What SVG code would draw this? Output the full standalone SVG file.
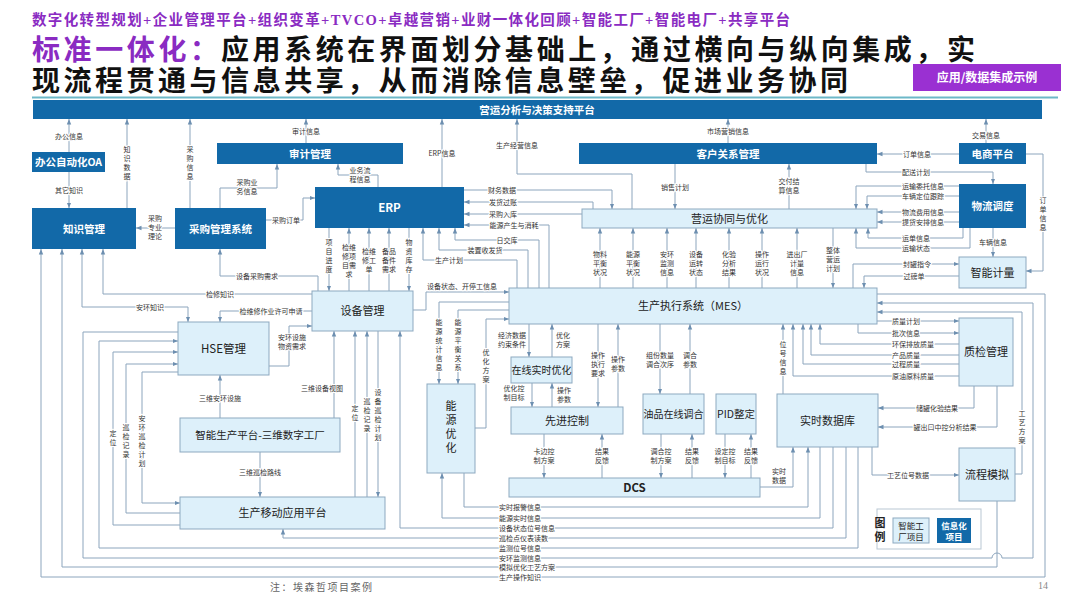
<svg xmlns="http://www.w3.org/2000/svg" width="1080" height="607" viewBox="0 0 1080 607">
<style>
.ln{fill:none;stroke:#8CA5BD;stroke-width:1}
.ar{marker-end:url(#a)}
.as{marker-start:url(#a)}
.lb{font-family:"Noto Sans CJK SC","Noto Sans",sans-serif;font-size:7px;fill:#333;text-anchor:middle;stroke:#fff;stroke-width:2.2px;paint-order:stroke;stroke-linejoin:round}
.ls{text-anchor:start}
.dk rect{fill:#1269A8}
.lt rect{fill:#DDF0FA;stroke:#8DA9C0;stroke-width:1}
.nt{font-family:"Noto Sans CJK SC","Noto Sans",sans-serif;text-anchor:middle;font-size:11px}
.dk .nt{fill:#fff;font-weight:bold;font-size:10.5px}
.lt .nt{fill:#222}
.ttl{font-family:"Noto Sans CJK SC",sans-serif;font-size:28px;font-weight:bold;fill:#111}
</style>
<defs>
<marker id="a" viewBox="0 0 10 10" refX="10" refY="5" markerWidth="5.5" markerHeight="5.5" orient="auto-start-reverse"><path d="M0,1L10,5L0,9z" fill="#6D8FB0"/></marker>
</defs>
<rect width="1080" height="607" fill="#fff"/>
<g id="header">
<text x="32" y="25" textLength="758" lengthAdjust="spacing" font-family="Liberation Serif,Noto Sans CJK SC,serif" font-size="14.5" font-weight="bold" fill="#8A2BC2">数字化转型规划+企业管理平台+组织变革+TVCO+卓越营销+业财一体化回顾+智能工厂+智能电厂+共享平台</text>
<text class="ttl" x="32" y="60" textLength="186" lengthAdjust="spacing" style="fill:#8A2BC2">标准一体化：</text>
<text class="ttl" x="221" y="60" textLength="754" lengthAdjust="spacing">应用系统在界面划分基础上，通过横向与纵向集成，实</text>
<text class="ttl" x="32" y="91" textLength="816" lengthAdjust="spacing">现流程贯通与信息共享，从而消除信息壁垒，促进业务协同</text>
<rect x="913" y="64" width="148" height="27" fill="#9A30D2"/>
<text x="987" y="82" text-anchor="middle" font-family="Noto Sans CJK SC,sans-serif" font-size="12" font-weight="bold" fill="#fff">应用/数据集成示例</text>
<line x1="32" y1="97.5" x2="1058" y2="97.5" stroke="#6CB8C8" stroke-width="2"/>
</g>
<g id="connectors">
<path class="ln ar" d="M69,152V119"/>
<path class="ln ar" d="M127,208V119"/>
<path class="ln ar" d="M190,208V119"/>
<path class="ln ar" d="M306,143V119"/>
<path class="ln ar" d="M442,187V119"/>
<path class="ln ar" d="M632,209V174H517V119"/>
<path class="ln ar" d="M464,190H612V209"/>
<path class="ln ar" d="M593,209V202H464"/>
<path class="ln ar" d="M582,214H464"/>
<path class="ln ar" d="M549,288V225H464"/>
<path class="ln ar" d="M539,288V240H455V228"/>
<path class="ln ar" d="M528,288V250H439V228"/>
<path class="ln ar" d="M517,288V260H423V228"/>
<path class="ln ar" d="M675,164V209"/>
<path class="ln ar" d="M789,209V164"/>
<path class="ln ar" d="M728,143V119"/>
<path class="ln ar" d="M986,143V119"/>
<path class="ln ar" d="M959,154H877"/>
<path class="ln ar" d="M866,164V172H993V184"/>
<path class="ln ar" d="M1026,154H1043V271H1026"/>
<path class="ln ar" d="M959,186H856V209"/>
<path class="ln ar" d="M959,196H867V209"/>
<path class="ln ar" d="M959,212H877"/>
<path class="ln ar" d="M959,222H877"/>
<path class="ln ar" d="M963,228V238H868V228"/>
<path class="ln ar" d="M970,228V248H856V228"/>
<path class="ln ar" d="M993,228V257"/>
<path class="ln ar" d="M853,288V264H959"/>
<path class="ln ar" d="M959,276H864V288"/>
<path class="ln ar" d="M833,228V288"/>
<path class="ln ar" d="M600,288V228"/>
<path class="ln ar" d="M633,288V228"/>
<path class="ln ar" d="M667,288V228"/>
<path class="ln ar" d="M696,288V228"/>
<path class="ln ar" d="M729,288V228"/>
<path class="ln ar" d="M762,288V228"/>
<path class="ln ar" d="M797,288V228"/>
<path class="ln ar" d="M877,294H1045V577H41V249"/>
<path class="ln ar" d="M178,332H83V558H992A5,5 0 0 1 1002,558H1033V303H877"/>
<path class="ln ar" d="M1015,474H1022V312H877"/>
<path class="ln ar" d="M997,501V567H62V249"/>
<path class="ln ar" d="M877,321H959"/>
<path class="ln ar" d="M858,324V333H959"/>
<path class="ln ar" d="M959,344H820V324"/>
<path class="ln ar" d="M959,355H811V324"/>
<path class="ln ar" d="M959,364H803V324"/>
<path class="ln ar" d="M959,376H793V324"/>
<path class="ln ar" d="M783,394V324"/>
<path class="ln ar" d="M974,386V408H878"/>
<path class="ln ar" d="M997,386V427H878"/>
<path class="ln ar" d="M872,447V475H959"/>
<path class="ln ar" d="M544,434V478"/>
<path class="ln ar" d="M602,478V434"/>
<path class="ln ar" d="M661,434V478"/>
<path class="ln ar" d="M692,478V434"/>
<path class="ln ar" d="M725,434V478"/>
<path class="ln ar" d="M751,478V434"/>
<path class="ln ar" d="M760,487H793V447"/>
<path class="ln ar" d="M464,473V507H808V447"/>
<path class="ln ar" d="M820,447V518H442V473"/>
<path class="ln ar" d="M833,447V528H400V331"/>
<path class="ln ar" d="M846,447V538H283V529"/>
<path class="ln ar" d="M858,447V548H99V341H178"/>
<path class="ln ar" d="M180,525H113V352H178"/>
<path class="ln ar" d="M180,513H126V364H178"/>
<path class="ln ar" d="M178,372H142V503H180"/>
<path class="ln ar as" d="M82,249V307H188V322"/>
<path class="ln ar" d="M312,294H103V249"/>
<path class="ln ar" d="M318,291V276H220V249"/>
<path class="ln ar" d="M312,311H220V322"/>
<path class="ln ar" d="M269,366H289V326H312"/>
<path class="ln ar" d="M266,220H303V198H315"/>
<path class="ln ar" d="M220,208V188H277V164"/>
<path class="ln ar" d="M378,187V175H338V164"/>
<path class="ln ar" d="M175,228H136"/>
<path class="ln ar" d="M69,172V208"/>
<path class="ln ar" d="M329,228V291"/>
<path class="ln ar" d="M349,291V228"/>
<path class="ln ar" d="M369,291V228"/>
<path class="ln ar" d="M389,291V228"/>
<path class="ln ar" d="M409,228V291"/>
<path class="ln ar" d="M413,310H426V292H509"/>
<path class="ln ar" d="M509,302H439V384"/>
<path class="ln ar" d="M509,310H458V384"/>
<path class="ln ar" d="M475,428H486V319H509"/>
<path class="ln ar" d="M529,324V357"/>
<path class="ln ar" d="M552,357V324"/>
<path class="ln ar" d="M598,324V407"/>
<path class="ln ar" d="M618,407V324"/>
<path class="ln ar" d="M532,383V407"/>
<path class="ln ar" d="M552,407V383"/>
<path class="ln ar" d="M660,324V394"/>
<path class="ln ar" d="M690,394V324"/>
<path class="ln ar" d="M220,418V375"/>
<path class="ln ar" d="M334,418V331"/>
<path class="ln ar" d="M260,452V497"/>
<path class="ln ar" d="M355,497V331"/>
<path class="ln ar" d="M367,497V331"/>
<path class="ln ar" d="M378,331V497"/>
<text class="lb" x="69" y="139">办公信息</text>
<text class="lb"><tspan x="127" y="152">知</tspan><tspan x="127" y="161">识</tspan><tspan x="127" y="170">数</tspan><tspan x="127" y="179">据</tspan></text>
<text class="lb"><tspan x="190" y="152">采</tspan><tspan x="190" y="161">购</tspan><tspan x="190" y="170">信</tspan><tspan x="190" y="179">息</tspan></text>
<text class="lb" x="306" y="134">审计信息</text>
<text class="lb" x="442" y="156">ERP信息</text>
<text class="lb" x="517" y="148">生产经营信息</text>
<text class="lb" x="502" y="192.5">财务数据</text>
<text class="lb" x="503" y="204.5">发货过账</text>
<text class="lb" x="503" y="216.5">采购入库</text>
<text class="lb" x="514" y="227.5">能源产生与消耗</text>
<text class="lb" x="507" y="242.5">日交库</text>
<text class="lb" x="485" y="252.5">装置收发货</text>
<text class="lb" x="449" y="262.5">生产计划</text>
<text class="lb" x="675" y="189.5">销售计划</text>
<text class="lb"><tspan x="789" y="184">交付结</tspan><tspan x="789" y="193">算信息</tspan></text>
<text class="lb" x="728" y="134">市场营销信息</text>
<text class="lb" x="986" y="138">交易信息</text>
<text class="lb" x="917" y="156.5">订单信息</text>
<text class="lb" x="916" y="174.5">配送计划</text>
<text class="lb"><tspan x="1043" y="203">订</tspan><tspan x="1043" y="212">单</tspan><tspan x="1043" y="221">信</tspan><tspan x="1043" y="230">息</tspan></text>
<text class="lb" x="923" y="188.5">运输委托信息</text>
<text class="lb" x="923" y="198.5">车辆定位跟踪</text>
<text class="lb" x="923" y="214.5">物流费用信息</text>
<text class="lb" x="923" y="224.5">提货安排信息</text>
<text class="lb" x="916" y="240.5">运单信息</text>
<text class="lb" x="916" y="250.5">运输状态</text>
<text class="lb" x="993" y="244.5">车辆信息</text>
<text class="lb" x="917" y="266.5">封罐指令</text>
<text class="lb" x="914" y="278.5">过磅单</text>
<text class="lb"><tspan x="833" y="252.5">整体</tspan><tspan x="833" y="261.5">营运</tspan><tspan x="833" y="270.5">计划</tspan></text>
<text class="lb"><tspan x="600" y="257">物料</tspan><tspan x="600" y="266">平衡</tspan><tspan x="600" y="275">状况</tspan></text>
<text class="lb"><tspan x="633" y="257">能源</tspan><tspan x="633" y="266">平衡</tspan><tspan x="633" y="275">状况</tspan></text>
<text class="lb"><tspan x="667" y="257">安环</tspan><tspan x="667" y="266">监测</tspan><tspan x="667" y="275">信息</tspan></text>
<text class="lb"><tspan x="696" y="257">设备</tspan><tspan x="696" y="266">运转</tspan><tspan x="696" y="275">状态</tspan></text>
<text class="lb"><tspan x="729" y="257">化验</tspan><tspan x="729" y="266">分析</tspan><tspan x="729" y="275">结果</tspan></text>
<text class="lb"><tspan x="762" y="257">操作</tspan><tspan x="762" y="266">运行</tspan><tspan x="762" y="275">状况</tspan></text>
<text class="lb"><tspan x="797" y="257">进出厂</tspan><tspan x="797" y="266">计量</tspan><tspan x="797" y="275">信息</tspan></text>
<text class="lb ls" x="499" y="509.5">实时报警信息</text>
<text class="lb ls" x="499" y="520.5">能源实时信息</text>
<text class="lb ls" x="499" y="530.5">设备状态位号信息</text>
<text class="lb ls" x="499" y="540.5">巡检点仪表读数</text>
<text class="lb ls" x="499" y="550.5">监测位号信息</text>
<text class="lb ls" x="499" y="560.5">安环监测信息</text>
<text class="lb ls" x="499" y="569.5">模拟优化工艺方案</text>
<text class="lb ls" x="499" y="579.5">生产操作知识</text>
<text class="lb"><tspan x="1022" y="416">工</tspan><tspan x="1022" y="425">艺</tspan><tspan x="1022" y="434">方</tspan><tspan x="1022" y="443">案</tspan></text>
<text class="lb ls" x="892" y="323.5">质量计划</text>
<text class="lb ls" x="892" y="335.5">批次信息</text>
<text class="lb ls" x="892" y="346.5">环保排放质量</text>
<text class="lb ls" x="892" y="357.5">产品质量</text>
<text class="lb ls" x="892" y="366.5">过程质量</text>
<text class="lb ls" x="892" y="378.5">原油原料质量</text>
<text class="lb"><tspan x="783" y="347">位</tspan><tspan x="783" y="356">号</tspan><tspan x="783" y="365">信</tspan><tspan x="783" y="374">息</tspan></text>
<text class="lb" x="937" y="410.5">储罐化验结果</text>
<text class="lb" x="945" y="429.5">罐出口中控分析结果</text>
<text class="lb" x="908" y="477.5">工艺位号数据</text>
<text class="lb"><tspan x="544" y="454">卡边控</tspan><tspan x="544" y="463">制方案</tspan></text>
<text class="lb"><tspan x="602" y="454">结果</tspan><tspan x="602" y="463">反馈</tspan></text>
<text class="lb"><tspan x="661" y="454">调合控</tspan><tspan x="661" y="463">制方案</tspan></text>
<text class="lb"><tspan x="692" y="454">结果</tspan><tspan x="692" y="463">反馈</tspan></text>
<text class="lb"><tspan x="725" y="454">设定控</tspan><tspan x="725" y="463">制目标</tspan></text>
<text class="lb"><tspan x="751" y="454">结果</tspan><tspan x="751" y="463">反馈</tspan></text>
<text class="lb"><tspan x="779" y="474">实时</tspan><tspan x="779" y="483">数据</tspan></text>
<text class="lb"><tspan x="113" y="436">定</tspan><tspan x="113" y="445">位</tspan></text>
<text class="lb"><tspan x="126" y="430">巡</tspan><tspan x="126" y="439">检</tspan><tspan x="126" y="448">记</tspan><tspan x="126" y="457">录</tspan></text>
<text class="lb"><tspan x="142" y="421">安</tspan><tspan x="142" y="430">环</tspan><tspan x="142" y="439">巡</tspan><tspan x="142" y="448">检</tspan><tspan x="142" y="457">计</tspan><tspan x="142" y="466">划</tspan></text>
<text class="lb" x="150" y="309.5">安环知识</text>
<text class="lb" x="220" y="296.5">检修知识</text>
<text class="lb" x="257" y="278.5">设备采购需求</text>
<text class="lb" x="271" y="313.5">检维修作业许可申请</text>
<text class="lb"><tspan x="292" y="340">安环设施</tspan><tspan x="292" y="349">物资需求</tspan></text>
<text class="lb" x="286" y="222.5">采购订单</text>
<text class="lb"><tspan x="247" y="185">采购业</tspan><tspan x="247" y="194">务信息</tspan></text>
<text class="lb"><tspan x="360" y="173">业务流</tspan><tspan x="360" y="182">程信息</tspan></text>
<text class="lb"><tspan x="155" y="221">采购</tspan><tspan x="155" y="230">专业</tspan><tspan x="155" y="239">理论</tspan></text>
<text class="lb" x="69" y="192.5">其它知识</text>
<text class="lb"><tspan x="329" y="245">项</tspan><tspan x="329" y="254">目</tspan><tspan x="329" y="263">进</tspan><tspan x="329" y="272">度</tspan></text>
<text class="lb"><tspan x="349" y="250">检维</tspan><tspan x="349" y="259">修项</tspan><tspan x="349" y="268">目需</tspan><tspan x="349" y="277">求</tspan></text>
<text class="lb"><tspan x="369" y="254">检维</tspan><tspan x="369" y="263">修工</tspan><tspan x="369" y="272">单</tspan></text>
<text class="lb"><tspan x="389" y="254">备品</tspan><tspan x="389" y="263">备件</tspan><tspan x="389" y="272">需求</tspan></text>
<text class="lb"><tspan x="409" y="245">物</tspan><tspan x="409" y="254">资</tspan><tspan x="409" y="263">库</tspan><tspan x="409" y="272">存</tspan></text>
<text class="lb" x="462" y="288.5">设备状态、开停工信息</text>
<text class="lb"><tspan x="439" y="325">能</tspan><tspan x="439" y="334">源</tspan><tspan x="439" y="343">统</tspan><tspan x="439" y="352">计</tspan><tspan x="439" y="361">信</tspan><tspan x="439" y="370">息</tspan></text>
<text class="lb"><tspan x="458" y="325">能</tspan><tspan x="458" y="334">源</tspan><tspan x="458" y="343">平</tspan><tspan x="458" y="352">衡</tspan><tspan x="458" y="361">关</tspan><tspan x="458" y="370">系</tspan></text>
<text class="lb"><tspan x="486" y="355">优</tspan><tspan x="486" y="364">化</tspan><tspan x="486" y="373">方</tspan><tspan x="486" y="382">案</tspan></text>
<text class="lb"><tspan x="512" y="338">经济数据</tspan><tspan x="512" y="347">约束条件</tspan></text>
<text class="lb"><tspan x="563" y="338">优化</tspan><tspan x="563" y="347">方案</tspan></text>
<text class="lb"><tspan x="598" y="358">操作</tspan><tspan x="598" y="367">执行</tspan><tspan x="598" y="376">要求</tspan></text>
<text class="lb"><tspan x="618" y="362">操作</tspan><tspan x="618" y="371">参数</tspan></text>
<text class="lb"><tspan x="514" y="391">优化控</tspan><tspan x="514" y="400">制目标</tspan></text>
<text class="lb"><tspan x="564" y="393">操作</tspan><tspan x="564" y="402">参数</tspan></text>
<text class="lb"><tspan x="660" y="358">组份数量</tspan><tspan x="660" y="367">调合次序</tspan></text>
<text class="lb"><tspan x="690" y="358">调合</tspan><tspan x="690" y="367">参数</tspan></text>
<text class="lb" x="220" y="400.5">三维安环设施</text>
<text class="lb" x="322" y="390.5">三维设备视图</text>
<text class="lb" x="260" y="474.5">三维巡检路线</text>
<text class="lb"><tspan x="355" y="411">定</tspan><tspan x="355" y="420">位</tspan></text>
<text class="lb"><tspan x="367" y="404">巡</tspan><tspan x="367" y="413">检</tspan><tspan x="367" y="422">记</tspan><tspan x="367" y="431">录</tspan></text>
<text class="lb"><tspan x="378" y="395">设</tspan><tspan x="378" y="404">备</tspan><tspan x="378" y="413">巡</tspan><tspan x="378" y="422">检</tspan><tspan x="378" y="431">计</tspan><tspan x="378" y="440">划</tspan></text>
</g>
<g id="n-top" class="dk"><rect x="33" y="100" width="1009" height="19"/><text class="nt" x="537" y="113.5">营运分析与决策支持平台</text></g>
<g id="n-oa" class="dk"><rect x="32" y="152" width="73" height="20"/><text class="nt" x="68.5" y="165.5">办公自动化OA</text></g>
<g id="n-km" class="dk"><rect x="32" y="208" width="104" height="41"/><text class="nt" x="84" y="232.5">知识管理</text></g>
<g id="n-pur" class="dk"><rect x="175" y="208" width="91" height="41"/><text class="nt" x="220.5" y="232.5">采购管理系统</text></g>
<g id="n-audit" class="dk"><rect x="217" y="143" width="186" height="21"/><text class="nt" x="310" y="157.5">审计管理</text></g>
<g id="n-erp" class="dk"><rect x="315" y="187" width="149" height="41"/><text class="nt" x="389.5" y="211.5" style="font-size:11.5px">ERP</text></g>
<g id="n-crm" class="dk"><rect x="579" y="143" width="298" height="21"/><text class="nt" x="728" y="157.5">客户关系管理</text></g>
<g id="n-ec" class="dk"><rect x="959" y="143" width="67" height="21"/><text class="nt" x="992.5" y="157.5">电商平台</text></g>
<g id="n-log" class="dk"><rect x="959" y="184" width="67" height="44"/><text class="nt" x="992.5" y="209.5">物流调度</text></g>
<g id="n-ops" class="lt"><rect x="582" y="209" width="295" height="19"/><text class="nt" x="729.5" y="222.5">营运协同与优化</text></g>
<g id="n-meter" class="lt"><rect x="959" y="257" width="67" height="31"/><text class="nt" x="992.5" y="276.5">智能计量</text></g>
<g id="n-mes" class="lt"><rect x="509" y="288" width="368" height="36"/><text class="nt" x="693" y="310">生产执行系统（MES）</text></g>
<g id="n-eq" class="lt"><rect x="312" y="291" width="101" height="40"/><text class="nt" x="362.5" y="315">设备管理</text></g>
<g id="n-hse" class="lt"><rect x="178" y="322" width="91" height="53"/><text class="nt" x="223.5" y="352.5" style="font-size:11.5px">HSE管理</text></g>
<g id="n-qc" class="lt"><rect x="959" y="318" width="54" height="68"/><text class="nt" x="986" y="356">质检管理</text></g>
<g id="n-rto" class="lt"><rect x="511" y="357" width="61" height="26"/><text class="nt" x="541.5" y="374" style="font-size:10px">在线实时优化</text></g>
<g id="n-energy" class="lt"><rect x="427" y="384" width="48" height="89"/><text class="nt" style="font-size:11px"><tspan x="451" y="410">能</tspan><tspan x="451" y="424">源</tspan><tspan x="451" y="438">优</tspan><tspan x="451" y="452">化</tspan></text></g>
<g id="n-apc" class="lt"><rect x="511" y="407" width="112" height="27"/><text class="nt" x="567" y="424.5">先进控制</text></g>
<g id="n-blend" class="lt"><rect x="643" y="394" width="61" height="40"/><text class="nt" x="673.5" y="418" style="font-size:10px">油品在线调合</text></g>
<g id="n-pid" class="lt"><rect x="716" y="394" width="40" height="40"/><text class="nt" x="736" y="418" style="font-size:10.5px">PID整定</text></g>
<g id="n-rtdb" class="lt"><rect x="777" y="394" width="101" height="53"/><text class="nt" x="827.5" y="424.5">实时数据库</text></g>
<g id="n-sim" class="lt"><rect x="959" y="448" width="56" height="53"/><text class="nt" x="987" y="478.5">流程模拟</text></g>
<g id="n-dcs" class="lt"><rect x="509" y="478" width="251" height="19"/><text class="nt" x="634.5" y="491.5" style="font-weight:bold;font-size:11.5px">DCS</text></g>
<g id="n-3d" class="lt"><rect x="180" y="418" width="160" height="34"/><text class="nt" x="260" y="438.5" style="font-size:10.5px">智能生产平台-三维数字工厂</text></g>
<g id="n-mob" class="lt"><rect x="180" y="497" width="205" height="32"/><text class="nt" x="282.5" y="517">生产移动应用平台</text></g>
<g id="legend">
<rect x="877" y="509" width="104" height="40" fill="#fff" stroke="#B9C7D3" stroke-width="1"/>
<text font-family="Noto Sans CJK SC,sans-serif" font-size="11" font-weight="bold" fill="#222" text-anchor="middle"><tspan x="880" y="527">图</tspan><tspan x="880" y="541">例</tspan></text>
<g class="lt"><rect x="893" y="518" width="36" height="25"/><text class="nt" style="font-size:8.5px"><tspan x="911" y="529">智能工</tspan><tspan x="911" y="539.5">厂项目</tspan></text></g>
<g class="dk"><rect x="937" y="518" width="34" height="25"/><text class="nt" style="font-size:8.5px"><tspan x="954" y="529">信息化</tspan><tspan x="954" y="539.5">项目</tspan></text></g>
</g>
<g id="footer">
<text x="270" y="591" font-family="Liberation Serif,Noto Sans CJK SC,serif" font-size="10" letter-spacing="1.5" fill="#666">注：埃森哲项目案例</text>
<text x="1043" y="589" text-anchor="middle" font-family="Liberation Serif,serif" font-size="10" fill="#888">14</text>
</g>
</svg>
